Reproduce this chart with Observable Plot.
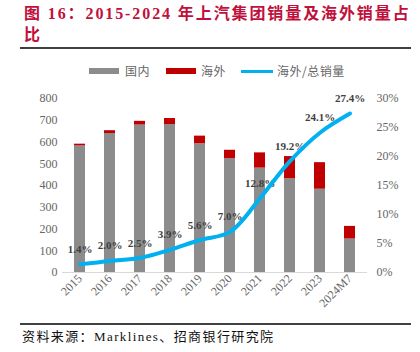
<!DOCTYPE html>
<html><head><meta charset="utf-8">
<script src="https://cdn.jsdelivr.net/npm/d3@7"></script>
<script src="https://cdn.jsdelivr.net/npm/@observablehq/plot@0.6"></script>
<style>
body{margin:0;background:#fff;width:420px;height:352px;overflow:hidden;position:relative;font-family:"Liberation Serif","Noto Sans CJK SC",serif;}
#title{position:absolute;left:24px;top:3px;color:#c0103c;font-weight:bold;font-size:16px;line-height:21px;letter-spacing:1.9px;white-space:nowrap;}
.rule{position:absolute;left:20px;width:391px;height:2px;background:#404040;}
.sw{position:absolute;height:6px;top:68px;}
.lt{position:absolute;top:63px;font-size:12px;line-height:16px;color:#666;letter-spacing:0.5px;font-family:"Noto Sans CJK SC",sans-serif;}
#chart{position:absolute;left:0;top:85px;}
#caption{position:absolute;left:22px;top:328px;font-size:13px;line-height:17px;color:#111;letter-spacing:1.4px;}
</style></head>
<body>
<div id="title">图 16：2015-2024 年上汽集团销量及海外销量占<br>比</div>
<div class="rule" style="top:47px"></div>
<div class="sw" style="left:89px;width:30px;background:#8c8c8c"></div><div class="lt" style="left:125px">国内</div>
<div class="sw" style="left:166px;width:30px;background:#c00000"></div><div class="lt" style="left:201px">海外</div>
<div class="sw" style="left:241px;width:32px;height:3px;top:70px;background:#00b0f0"></div><div class="lt" style="left:277px">海外/总销量</div>
<div id="chart"></div>
<div class="rule" style="top:323px"></div>
<div id="caption">资料来源：Marklines、招商银行研究院</div>
<script>
const years = ["2015","2016","2017","2018","2019","2020","2021","2022","2023","2024M7"];
const domestic = [582,639,678,680,592,523,480,431,383,154];
const overseas = [8,13,17,28,35,39,70,102,122,58];
const share = [1.4,2.0,2.5,3.9,5.6,7.0,12.8,19.2,24.1,27.4];
const leftTicks = [0,100,200,300,400,500,600,700,800];
const rightTicks = [0,5,10,15,20,25,30];
const seriesNames = ["国内","海外"];

const yMax = 800, pMax = 30;
const toY = p => p * yMax / pMax;

const bars = years.flatMap((yr,i)=>[
  {year:yr, type:seriesNames[0], value:domestic[i]},
  {year:yr, type:seriesNames[1], value:overseas[i]}
]);
const lineData = years.map((yr,i)=>({year:yr, share:share[i], label:share[i].toFixed(1)+"%"}));

const chart = Plot.plot({
  width:420, height:237,
  marginLeft:62, marginRight:53, marginTop:13, marginBottom:50,
  style:{fontFamily:"Liberation Serif", background:"#fff"},
  x:{domain:years, paddingInner:0.64, paddingOuter:0.32, label:null},
  y:{domain:[0,yMax], label:null},
  color:{domain:seriesNames, range:["#8c8c8c","#c00000"]},
  marks:[
    Plot.barY(bars,{x:"year", y:"value", fill:"type"}),
    Plot.ruleY([0],{stroke:"#d9d9d9", strokeWidth:1}),
    Plot.axisY(leftTicks,{anchor:"left", tickSize:0, tickPadding:5, fontSize:12, fill:"#666", label:null}),
    Plot.axisY(rightTicks.map(toY),{anchor:"right", tickSize:0, tickPadding:9, fontSize:12, fill:"#666", label:null, tickFormat:d=>Math.round(d*pMax/yMax)+"%"}),
    Plot.axisX({tickSize:0, tickPadding:4, tickRotate:-45, fontSize:12, fill:"#666", label:null}),
    Plot.text(lineData,{x:"year", y:d=>toY(d.share), text:"label", dy:-15, fontSize:11, fontWeight:"bold", fill:"#404040"}),
    Plot.line(lineData,{x:"year", y:d=>toY(d.share), curve:"catmull-rom", stroke:"#00b0f0", strokeWidth:4})
  ]
});
document.getElementById("chart").appendChild(chart);
</script>
</body></html>
